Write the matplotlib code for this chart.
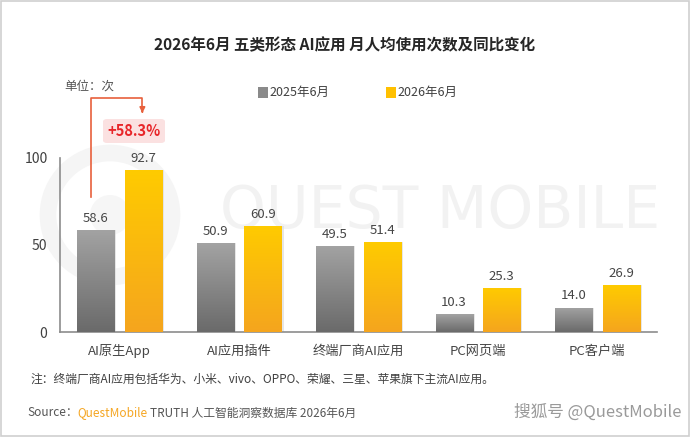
import matplotlib
matplotlib.use("Agg")
import matplotlib.pyplot as plt
import numpy as np
from matplotlib.patches import Rectangle, FancyBboxPatch, Circle
from matplotlib.colors import LinearSegmentedColormap

plt.rcParams['font.family'] = ['Noto Sans CJK SC', 'DejaVu Sans']

categories = ["AI原生App", "AI应用插件", "终端厂商AI应用", "PC网页端", "PC客户端"]
series_names = ["2025年6月", "2026年6月"]
values_2025 = [58.6, 50.9, 49.5, 10.3, 14.0]
values_2026 = [92.7, 60.9, 51.4, 25.3, 26.9]
yticks = [0, 50, 100]
growth_label = "+58.3%"

W, H = 690, 437
fig = plt.figure(figsize=(6.9, 4.37), dpi=100)
fig.patch.set_facecolor("white")

def fx(px): return px / W
def fy(py): return 1 - py / H

# background watermark axes (pixel coordinates)
bg = fig.add_axes([0, 0, 1, 1], zorder=-5)
bg.set_xlim(0, W)
bg.set_ylim(H, 0)
bg.axis("off")
bg.text(440, 212, "QUEST MOBILE", fontsize=42, color="#f2f2f2",
        ha="center", va="center", family="DejaVu Sans")
bg.add_patch(Circle((110, 215), 62, fill=False, lw=12, ec="#f5f5f5"))
bg.add_patch(Circle((110, 215), 20, fill=True, ec="none", fc="#f6f6f6"))

ax_l, ax_r, ax_b, ax_t = 60, 657, 332, 88
ax = fig.add_axes([fx(ax_l), fy(ax_b), fx(ax_r - ax_l), (ax_b - ax_t) / H], zorder=1)
ax.set_facecolor("none")

x = np.arange(len(categories))
off, bw = 0.2, 0.31

gray_cmap = LinearSegmentedColormap.from_list("g", ["#6a6a6a", "#a3a3a3"])
yel_cmap = LinearSegmentedColormap.from_list("y", ["#f5a51e", "#ffcb00"])

def draw_bars(xs, vals, cmap):
    ax.bar(xs + 0.018, vals, bw, bottom=0, color="#dcdcdc", alpha=0.7, zorder=2)
    bars = ax.bar(xs, vals, bw, color="none", zorder=3)
    grad = np.linspace(0, 1, 256).reshape(-1, 1)
    for b in bars:
        x0, y0 = b.get_x(), b.get_y()
        w, h = b.get_width(), b.get_height()
        im = ax.imshow(grad, cmap=cmap, origin="lower", aspect="auto",
                       extent=[x0, x0 + w, y0, y0 + h], zorder=3)
        im.set_clip_path(b)
        ax.text(x0 + w / 2, y0 + h + 3, f"{h:.1f}", ha="center", va="bottom",
                fontsize=9.5, color="#454545", zorder=5)
    return bars

draw_bars(x - off, np.array(values_2025), gray_cmap)
draw_bars(x + off, np.array(values_2026), yel_cmap)
ax.set_xlim(-0.5, 4.5)
ax.set_ylim(0, 140)

for s in ["top", "right"]:
    ax.spines[s].set_visible(False)
ax.spines["left"].set_bounds(0, 100)
ax.spines["left"].set_color("#8c8c8c")
ax.spines["bottom"].set_color("#8c8c8c")
ax.spines["left"].set_linewidth(1.2)
ax.spines["bottom"].set_linewidth(1.2)
ax.set_yticks(yticks)
ax.set_yticklabels([str(t) for t in yticks], fontsize=10, color="#404040")
ax.tick_params(axis="y", length=0, pad=9)
ax.set_xticks(x)
ax.set_xticklabels(categories, fontsize=9.5, color="#454545")
ax.tick_params(axis="x", length=0, pad=9)

# growth annotation
lc = "#e8603c"
x_left = x[0] - off - 0.04
x_right = x[0] + off - 0.01
ax.plot([x_left, x_left, x_right, x_right], [77.5, 134, 134, 127],
        color=lc, lw=1.2, zorder=6, clip_on=False)
ax.annotate("", xy=(x_right, 124), xytext=(x_right, 128),
            arrowprops=dict(arrowstyle="-|>", color=lc, lw=1.2,
                            mutation_scale=8), zorder=6, annotation_clip=False)
box = FancyBboxPatch((fx(103), fy(143)), fx(62), 24 / H,
                     boxstyle="round,pad=0,rounding_size=0.006",
                     transform=fig.transFigure, fc="#fbe1e1", ec="none", zorder=5)
fig.patches.append(box)
fig.text(fx(134), fy(131), growth_label, ha="center", va="center",
         fontsize=10.5, fontweight="bold", color="#e8262a", zorder=7)

# title
fig.text(fx(345), fy(45), "2026年6月 五类形态 AI应用 月人均使用次数及同比变化",
         ha="center", va="center", fontsize=11.2, fontweight="bold", color="#262626")
fig.text(fx(64), fy(86), "单位：次", ha="left", va="center", fontsize=9, color="#555555")

# legend
leg_items = [(258, "#8a8a8a", series_names[0]), (386, "#ffc000", series_names[1])]
for px, col, lab in leg_items:
    fig.patches.append(Rectangle((fx(px), fy(98)), fx(10), 11 / H,
                                 transform=fig.transFigure, fc=col, ec="none"))
    fig.text(fx(px + 11), fy(92.5), lab, ha="left", va="center", fontsize=9, color="#404040")

# footnotes
fig.text(fx(30), fy(379), "注：终端厂商AI应用包括华为、小米、vivo、OPPO、荣耀、三星、苹果旗下主流AI应用。",
         ha="left", va="center", fontsize=8.5, color="#404040")
t1 = fig.text(fx(27), fy(413), "Source：", ha="left", va="center", fontsize=8.5, color="#555555")
fig.canvas.draw()
r = fig.canvas.get_renderer()
bb = t1.get_window_extent(r)
t2 = fig.text(bb.x1 / W, fy(413), "QuestMobile", ha="left", va="center", fontsize=8.5, color="#f5a623")
bb2 = t2.get_window_extent(r)
fig.text(bb2.x1 / W + 0.003, fy(413), "TRUTH 人工智能洞察数据库 2026年6月", ha="left", va="center",
         fontsize=8.5, color="#555555")
fig.text(fx(682), fy(412), "搜狐号 @QuestMobile", ha="right", va="center", fontsize=12,
         color="#9a9a9a", style="italic")

# frame
fig.patches.append(Rectangle((0.002, 0.003), 0.996, 0.994, transform=fig.transFigure,
                             fill=False, ec="#cfcfcf", lw=1.2))

fig.savefig("out.png", dpi=100)
